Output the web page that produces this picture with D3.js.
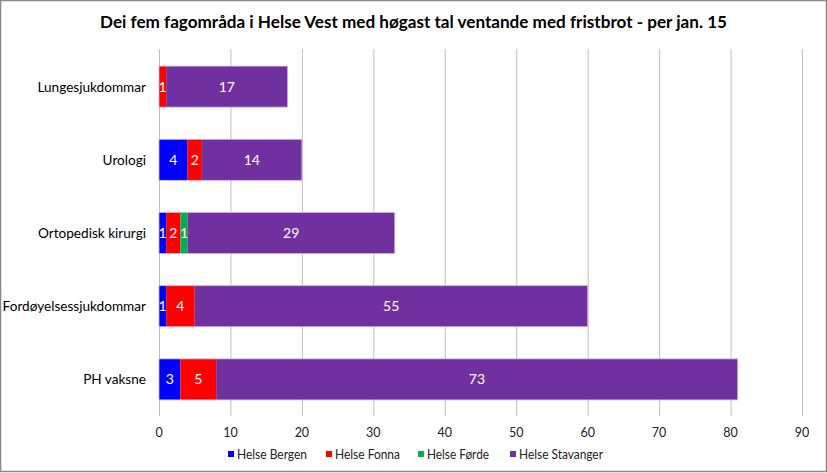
<!DOCTYPE html>
<html><head><meta charset="utf-8">
<script src="https://cdn.jsdelivr.net/npm/d3@7"></script>
<style>body{margin:0;background:#fff;}svg{display:block;font-family:Lato,"Open Sans",sans-serif;}</style>
</head><body><svg id="c" width="827" height="473"></svg>
<script>
const categories = ["Lungesjukdommar","Urologi","Ortopedisk kirurgi","Fordøyelsessjukdommar","PH vaksne"];
const seriesNames = ["Helse Bergen","Helse Fonna","Helse Førde","Helse Stavanger"];
const bergen = [0,4,1,1,3];
const fonna = [1,2,2,4,5];
const forde = [0,0,1,0,0];
const stavanger = [17,14,29,55,73];
const xTicks = [0,10,20,30,40,50,60,70,80,90];
const colors = ["#0000FF","#FF0000","#00B050","#7030A0"];
const title = "Dei fem fagområda i Helse Vest med høgast tal ventande med fristbrot - per jan. 15";

const svg = d3.select("#c");
svg.append("rect").attr("x",0.5).attr("y",0.5).attr("width",826).attr("height",471)
  .attr("fill","#fff").attr("stroke","#888").attr("stroke-width",1.5);

const x = d3.scaleLinear().domain([0,90]).range([159,802]);
const y = d3.scaleBand().domain(categories).range([50,416]).paddingInner(0.44).paddingOuter(0.22);

svg.append("text").attr("x",413.5).attr("y",28).attr("text-anchor","middle")
  .attr("font-size",17.5).attr("font-weight","bold").attr("fill","#000")
  .attr("textLength",627).attr("lengthAdjust","spacingAndGlyphs").text(title);

svg.append("g").selectAll("line").data(xTicks).join("line")
  .attr("x1",d=>x(d)+0.5).attr("x2",d=>x(d)+0.5).attr("y1",49).attr("y2",416)
  .attr("stroke","#bfbfbf").attr("stroke-width",1);

svg.append("g").selectAll("text").data(xTicks).join("text")
  .attr("x",d=>x(d)).attr("y",437).attr("text-anchor","middle")
  .attr("font-size",12.5).attr("fill","#222").text(d=>d);

svg.append("g").selectAll("text").data(categories).join("text")
  .attr("x",146).attr("y",d=>y(d)+y.bandwidth()/2+5).attr("text-anchor","end")
  .attr("font-size",13.6).attr("fill","#000").text(d=>d);

const rows = categories.map((c,i)=>({cat:c,vals:[bergen[i],fonna[i],forde[i],stavanger[i]]}));
const segs = [];
rows.forEach(r=>{let s=0;r.vals.forEach((v,k)=>{segs.push({cat:r.cat,k,v,x0:s,x1:s+v});s+=v;});});

svg.append("g").selectAll("rect").data(segs.filter(d=>d.v>0)).join("rect")
  .attr("x",d=>x(d.x0)).attr("width",d=>x(d.x1)-x(d.x0))
  .attr("y",d=>y(d.cat)).attr("height",y.bandwidth())
  .attr("fill",d=>colors[d.k]);
svg.append("g").selectAll("rect").data(rows).join("rect")
  .attr("x",d=>x(0)).attr("width",d=>x(d3.sum(d.vals))-x(0))
  .attr("y",d=>y(d.cat)).attr("height",y.bandwidth())
  .attr("fill","none").attr("stroke","#c9b3e0").attr("stroke-width",0.8);

svg.append("g").selectAll("text").data(segs.filter(d=>d.v>0)).join("text")
  .attr("x",d=>(x(d.x0)+x(d.x1))/2).attr("y",d=>y(d.cat)+y.bandwidth()/2+5)
  .attr("text-anchor","middle").attr("font-size",14).attr("fill","#fff").text(d=>d.v);

const legX = [228,326,418,510];
const legW = [70,65,62,84];
const lg = svg.append("g").selectAll("g").data(seriesNames).join("g")
  .attr("transform",(d,i)=>`translate(${legX[i]},454)`);
lg.append("rect").attr("x",0).attr("y",-3).attr("width",6).attr("height",6).attr("fill",(d,i)=>colors[i]);
lg.append("text").attr("x",9).attr("y",4.5).attr("font-size",13.5).attr("fill","#222")
  .attr("textLength",(d,i)=>legW[i]).attr("lengthAdjust","spacingAndGlyphs").text(d=>d);
</script></body></html>
